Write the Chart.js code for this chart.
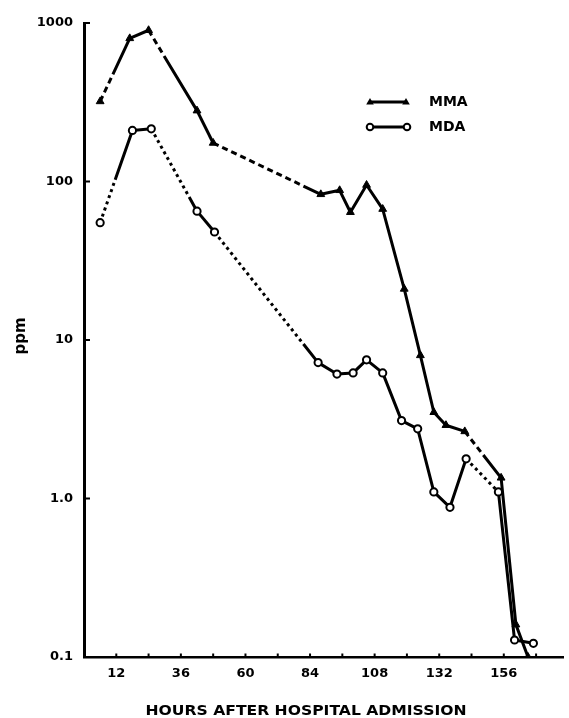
<!DOCTYPE html>
<html>
<head>
<meta charset="utf-8">
<script src="https://cdn.jsdelivr.net/npm/chart.js@4/dist/chart.umd.min.js"></script>
<style>
  html, body { margin: 0; padding: 0; background: #fff; }
  canvas { display: block; }
</style>
</head>
<body>
<canvas id="chart" width="569" height="718"></canvas>
<script>
// Serum levels (ppm, log scale) against hours after hospital admission
const mmaHours = [6, 17, 24, 42, 48, 88, 95, 99, 105, 111, 119, 125, 130, 134.5, 141.5, 155, 160.5, 165];
const mmaPpm   = [320, 800, 900, 280, 175, 83, 88, 64, 95, 67, 21, 8, 3.5, 2.9, 2.65, 1.35, 0.16, 0.1];
const mdaHours = [6, 18, 25, 42, 48.5, 87, 94, 100, 105, 111, 118, 124, 130, 136, 142, 154, 160, 167];
const mdaPpm   = [55, 210, 215, 65, 48, 7.2, 6.1, 6.2, 7.5, 6.2, 3.1, 2.75, 1.1, 0.88, 1.78, 1.1, 0.128, 0.122];

const hourTicks = [12, 36, 60, 84, 108, 132, 156];
const ppmTicks = [0.1, 1, 10, 100, 1000];
const ppmTickLabels = ['0.1', '1.0', '10', '100', '1000'];

// Share of each segment (from its first point) drawn broken rather than solid
const mmaBroken = [0.5, 0, 0.35, 0, 0.85, 0, 0, 0, 0, 0, 0, 0, 0, 0, 0.55, 0, 0];
const mdaBroken = [0.45, 0, 0.8, 0, 0.86, 0, 0, 0, 0, 0, 0, 0, 0, 0, 1, 0, 0];

const FONT = "'DejaVu Sans', 'Liberation Sans', sans-serif";

function segmentDash(shares, on, off) {
  return ctx => {
    const f = shares[ctx.p0DataIndex] || 0;
    if (f <= 0) return [];
    if (f >= 1) return [on, off];
    const len = Math.hypot(ctx.p1.x - ctx.p0.x, ctx.p1.y - ctx.p0.y);
    const n = Math.max(1, Math.round(len * f / (on + off)));
    const pattern = [];
    for (let i = 0; i < n; i++) pattern.push(on, off);
    pattern.push(len + 40, 0.01);
    return pattern;
  };
}

const toPoints = (xs, ys) => xs.map((x, i) => ({ x, y: ys[i] }));

// Short inward tick marks on both axes
const axisMarks = {
  id: 'axisMarks',
  afterDraw(chart) {
    const { ctx, chartArea, scales } = chart;
    ctx.save();
    ctx.strokeStyle = '#000';
    ctx.lineWidth = 2;
    scales.y.ticks.forEach(t => {
      const y = scales.y.getPixelForValue(t.value);
      ctx.beginPath();
      ctx.moveTo(chartArea.left, y);
      ctx.lineTo(chartArea.left + 6, y);
      ctx.stroke();
    });
    scales.x.ticks.forEach(t => {
      const x = scales.x.getPixelForValue(t.value);
      ctx.beginPath();
      ctx.moveTo(x, chartArea.bottom);
      ctx.lineTo(x, chartArea.bottom - 3.5);
      ctx.stroke();
    });
    ctx.restore();
  }
};

function drawTriangle(ctx, x, y, r) {
  ctx.beginPath();
  ctx.moveTo(x, y - r);
  ctx.lineTo(x + r * 0.95, y + r * 0.6);
  ctx.lineTo(x - r * 0.95, y + r * 0.6);
  ctx.closePath();
  ctx.fill();
}
function drawCircle(ctx, x, y, r) {
  ctx.beginPath();
  ctx.arc(x, y, r, 0, Math.PI * 2);
  ctx.fillStyle = '#fff';
  ctx.fill();
  ctx.lineWidth = 2;
  ctx.stroke();
}

// Key and axis titles
const keyAndTitles = {
  id: 'keyAndTitles',
  afterDraw(chart) {
    const { ctx } = chart;
    ctx.save();
    ctx.fillStyle = '#000';
    ctx.strokeStyle = '#000';

    // key: MMA
    ctx.lineWidth = 3;
    ctx.beginPath(); ctx.moveTo(369, 102); ctx.lineTo(407, 102); ctx.stroke();
    drawTriangle(ctx, 370, 102, 4);
    drawTriangle(ctx, 406, 102, 4);
    // key: MDA
    ctx.lineWidth = 3;
    ctx.beginPath(); ctx.moveTo(370, 127); ctx.lineTo(407, 127); ctx.stroke();
    drawCircle(ctx, 370, 127, 3.3);
    drawCircle(ctx, 407, 127, 3.3);

    ctx.fillStyle = '#000';
    ctx.font = 'bold 14px ' + FONT;
    ctx.textAlign = 'left';
    ctx.textBaseline = 'middle';
    ctx.fillText('MMA', 429, 102);
    ctx.fillText('MDA', 429, 127);

    // x axis title
    ctx.font = 'bold 14px ' + FONT;
    ctx.textAlign = 'center';
    const title = 'HOURS AFTER HOSPITAL ADMISSION';
    const w = ctx.measureText(title).width;
    ctx.save();
    ctx.translate(306, 711);
    ctx.scale(321 / w, 1);
    ctx.fillText(title, 0, 0);
    ctx.restore();

    // y axis title
    ctx.save();
    ctx.translate(21, 336);
    ctx.rotate(-Math.PI / 2);
    ctx.font = 'bold 15px ' + FONT;
    ctx.textAlign = 'center';
    ctx.textBaseline = 'middle';
    ctx.fillText('ppm', 0, 0);
    ctx.restore();

    ctx.restore();
  }
};

const tickFont = { family: FONT, size: 13, weight: 'bold' };

new Chart(document.getElementById('chart'), {
  type: 'line',
  data: {
    datasets: [
      {
        label: 'MMA',
        data: toPoints(mmaHours, mmaPpm),
        borderColor: '#000',
        backgroundColor: '#000',
        borderWidth: 3,
        borderJoinStyle: 'round',
        pointStyle: 'triangle',
        pointRadius: 4.5,
        pointBorderWidth: 1,
        pointBackgroundColor: '#000',
        pointBorderColor: '#000',
        tension: 0,
        segment: { borderDash: segmentDash(mmaBroken, 6, 4) }
      },
      {
        label: 'MDA',
        data: toPoints(mdaHours, mdaPpm),
        borderColor: '#000',
        backgroundColor: '#fff',
        borderWidth: 3,
        borderJoinStyle: 'round',
        pointStyle: 'circle',
        pointRadius: 3.6,
        pointBorderWidth: 2,
        pointBackgroundColor: '#fff',
        pointBorderColor: '#000',
        tension: 0,
        segment: { borderDash: segmentDash(mdaBroken, 3, 3.5) }
      }
    ]
  },
  options: {
    responsive: false,
    animation: false,
    devicePixelRatio: 1,
    layout: { padding: { top: 23, right: 0, bottom: 0, left: 0 } },
    plugins: { legend: { display: false }, tooltip: { enabled: false } },
    scales: {
      x: {
        type: 'linear',
        min: 0,
        max: 178,
        afterBuildTicks: scale => {
          const ticks = [];
          for (let h = 12; h <= 168; h += 12) ticks.push({ value: h });
          scale.ticks = ticks;
        },
        afterFit: scale => { scale.height = 61; },
        ticks: {
          autoSkip: false,
          maxRotation: 0,
          padding: 9,
          color: '#000',
          font: tickFont,
          callback: v => hourTicks.includes(v) ? String(v) : ''
        },
        grid: { display: false, drawTicks: false, tickLength: 0 },
        border: { display: true, color: '#000', width: 2.5 }
      },
      y: {
        type: 'logarithmic',
        min: 0.1,
        max: 1000,
        afterBuildTicks: scale => { scale.ticks = ppmTicks.map(v => ({ value: v })); },
        afterFit: scale => { scale.width = 84; },
        ticks: {
          autoSkip: false,
          padding: 11,
          color: '#000',
          font: tickFont,
          callback: (v, i) => ppmTickLabels[i]
        },
        grid: { display: false, drawTicks: false, tickLength: 0 },
        border: { display: true, color: '#000', width: 3 }
      }
    }
  },
  plugins: [axisMarks, keyAndTitles]
});
</script>
</body>
</html>
